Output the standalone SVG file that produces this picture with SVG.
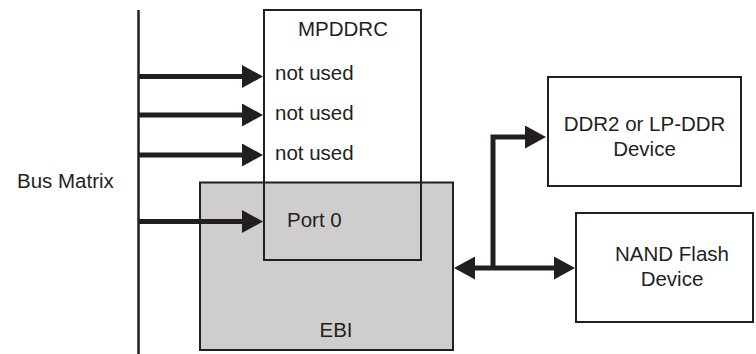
<svg xmlns="http://www.w3.org/2000/svg" width="756" height="354" viewBox="0 0 756 354">
  <style>
    .box { fill: none; stroke: #231f20; stroke-width: 2; }
    .ebi { fill: #d0cecd; stroke: #231f20; stroke-width: 2; }
    .dev { fill: #ffffff; stroke: #231f20; stroke-width: 2; }
    .t { font-family: "Liberation Sans", Arial, sans-serif; font-size: 20.5px; fill: #231f20; }
    .c { text-anchor: middle; }
    .conn { fill: none; stroke: #231f20; stroke-width: 5; }
    .bus { fill: none; stroke: #231f20; stroke-width: 2.5; }
  </style>
  <defs>
    <marker id="ah" viewBox="0 0 21 23" refX="0" refY="11.5" markerWidth="21" markerHeight="23" markerUnits="userSpaceOnUse" orient="auto-start-reverse">
      <path d="M0,0 L21,11.5 L0,23 z" fill="#231f20"/>
    </marker>
  </defs>
  <rect width="756" height="354" fill="#ffffff"/>

  <g id="bus-matrix">
    <line class="bus" x1="138.5" y1="10" x2="138.5" y2="354"/>
    <text class="t" x="17" y="188">Bus Matrix</text>
  </g>

  <g id="ebi">
    <rect class="ebi" x="200" y="182.5" width="253" height="167.5"/>
    <text class="t c" x="336" y="337">EBI</text>
  </g>

  <g id="mpddrc">
    <rect class="box" x="264" y="10" width="157" height="250"/>
    <text class="t c" x="343" y="36">MPDDRC</text>
    <text class="t" x="275" y="80">not used</text>
    <text class="t" x="275" y="120">not used</text>
    <text class="t" x="275" y="160">not used</text>
    <text class="t" x="287" y="227">Port 0</text>
  </g>

  <g id="ddr2">
    <rect class="dev" x="548" y="77" width="193" height="109"/>
    <text class="t c" x="644.5" y="131">DDR2 or LP-DDR</text>
    <text class="t c" x="644.5" y="156">Device</text>
  </g>

  <g id="nand">
    <rect class="dev" x="576" y="213" width="177" height="109"/>
    <text class="t c" x="672" y="261">NAND Flash</text>
    <text class="t c" x="672" y="286">Device</text>
  </g>

  <g id="connectors">
    <path class="conn" d="M139,76.5 H242" marker-end="url(#ah)"/>
    <path class="conn" d="M139,115 H242" marker-end="url(#ah)"/>
    <path class="conn" d="M139,155 H242" marker-end="url(#ah)"/>
    <path class="conn" d="M139,221.5 H242" marker-end="url(#ah)"/>
    <path class="conn" d="M475,268 H554" marker-start="url(#ah)" marker-end="url(#ah)"/>
    <path class="conn" d="M493,268 V137 H525" marker-end="url(#ah)"/>
  </g>
</svg>
